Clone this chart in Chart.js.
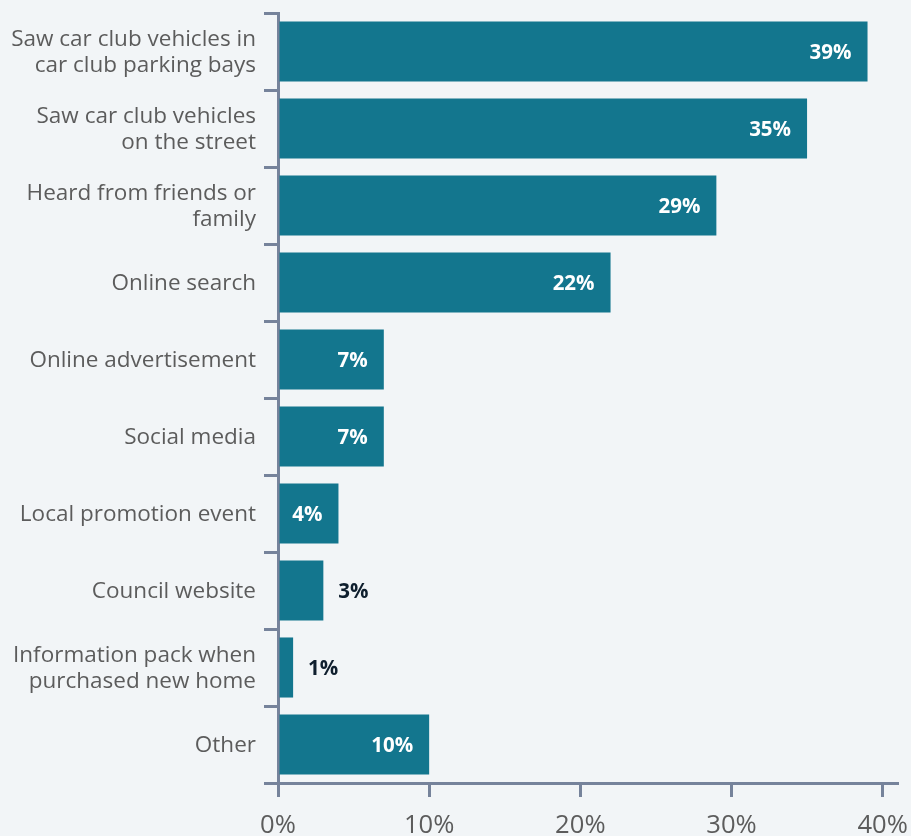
<!DOCTYPE html>
<html>
<head>
<meta charset="utf-8">
<script src="https://cdn.jsdelivr.net/npm/chart.js@4"></script>
<style>
  html, body { margin: 0; padding: 0; background: #f2f5f7; }
  #wrap { width: 911px; height: 836px; position: relative; }
</style>
</head>
<body>
<div id="wrap"><canvas id="c"></canvas></div>
<script>
// How respondents first heard about the car club (% of respondents)
const categories = [
  ["Saw car club vehicles in", "car club parking bays"],
  ["Saw car club vehicles", "on the street"],
  ["Heard from friends or", "family"],
  "Online search",
  "Online advertisement",
  "Social media",
  "Local promotion event",
  "Council website",
  ["Information pack when", "purchased new home"],
  "Other"
];
const shares = [39, 35, 29, 22, 7, 7, 4, 3, 1, 10];
const xTicks = [0, 10, 20, 30, 40];

const BAR = '#13768e';
const AXIS = '#76839b';
const TEXT = '#5c5c5c';
const FONT = "'Open Sans', 'Noto Sans', sans-serif";

Chart.defaults.font.family = FONT;

// Percentage labels: inside the bar end when it fits, otherwise just past it
const valueLabels = {
  id: 'valueLabels',
  afterDatasetsDraw(chart) {
    const ctx = chart.ctx;
    const meta = chart.getDatasetMeta(0);
    ctx.save();
    ctx.font = 'bold 20.5px ' + FONT;
    ctx.textBaseline = 'middle';
    meta.data.forEach((bar, i) => {
      const text = shares[i] + '%';
      const w = ctx.measureText(text).width;
      if (bar.x - bar.base >= w + 28) {
        ctx.fillStyle = '#ffffff';
        ctx.textAlign = 'right';
        ctx.fillText(text, bar.x - 16, bar.y + 1.5);
      } else {
        ctx.fillStyle = '#0f1f2e';
        ctx.textAlign = 'left';
        ctx.fillText(text, bar.x + 15, bar.y + 1.5);
      }
    });
    ctx.restore();
  }
};

new Chart(document.getElementById('c'), {
  type: 'bar',
  data: {
    labels: categories,
    datasets: [{
      data: shares,
      backgroundColor: BAR,
      borderWidth: 0,
      categoryPercentage: 1,
      barPercentage: 0.78
    }]
  },
  options: {
    indexAxis: 'y',
    responsive: true,
    maintainAspectRatio: false,
    animation: false,
    layout: { padding: { top: 13, right: 14, left: 0, bottom: 0 } },
    plugins: {
      legend: { display: false },
      tooltip: { enabled: false }
    },
    scales: {
      x: {
        type: 'linear',
        min: 0,
        max: 40.95,
        afterBuildTicks(scale) { scale.ticks = xTicks.map(v => ({ value: v })); },
        ticks: {
          callback: v => v + '%',
          font: { size: 25.6 },
          color: TEXT,
          padding: 13,
          maxRotation: 0,
          includeBounds: false
        },
        grid: { drawOnChartArea: false, drawTicks: true, tickLength: 14, color: AXIS, lineWidth: 3 },
        border: { color: AXIS, width: 3 },
        afterFit(scale) {
          scale.height = 53;
          scale.paddingLeft = 0;
          scale.paddingRight = 0;
        }
      },
      y: {
        type: 'category',
        offset: true,
        ticks: {
          font: { size: 22.5, lineHeight: 1.16 },
          color: TEXT,
          padding: 8,
          labelOffset: 1.5,
          autoSkip: false
        },
        grid: { offset: true, drawOnChartArea: false, drawTicks: true, tickLength: 14, color: AXIS, lineWidth: 3 },
        border: { color: AXIS, width: 3 },
        afterFit(scale) {
          scale.width = 278;
          scale.paddingTop = 0;
          scale.paddingBottom = 0;
        }
      }
    }
  },
  plugins: [valueLabels]
});
</script>
</body>
</html>
